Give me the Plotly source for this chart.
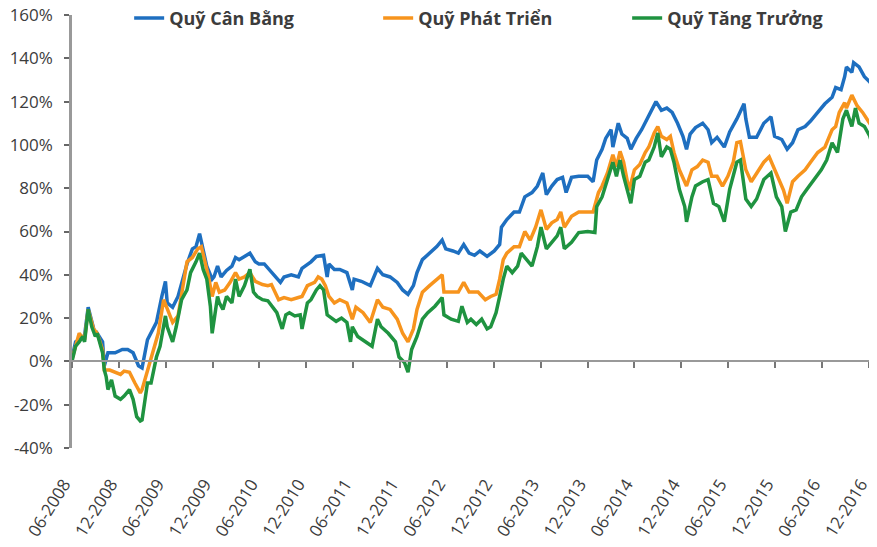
import numpy as np
import pandas as pd
import plotly.graph_objects as go

# ---------------- data (weekly observations since 2008-06-01; % return) ----------------
base_date = "2008-06-01"

can_bang_week = [0, 2, 4, 7, 9, 11, 13, 14, 17, 18, 20, 24, 28, 31, 34, 37, 39, 42, 44, 47,
                 50, 52, 53, 56, 59, 62, 64, 67, 69, 71, 73, 75, 78, 79, 81, 83, 86, 89, 91, 93,
                 96, 99, 102, 104, 107, 111, 116, 118, 122, 126, 128, 133, 136, 140, 142, 143, 146, 149, 153, 156,
                 157, 161, 166, 170, 173, 177, 181, 184, 187, 190, 192, 195, 199, 203, 206, 208, 212, 215, 218, 221,
                 224, 227, 231, 235, 238, 239, 242, 246, 249, 252, 256, 259, 262, 264, 267, 270, 273, 275, 278, 282,
                 287, 290, 292, 295, 297, 300, 301, 304, 306, 309, 311, 314, 317, 320, 322, 325, 328, 331, 334, 337,
                 340, 342, 344, 347, 351, 354, 356, 359, 363, 366, 370, 372, 374, 375, 377, 381, 385, 389, 391, 395,
                 398, 401, 404, 408, 411, 415, 419, 423, 425, 428, 430, 431, 434, 435, 438, 441, 444, 446, 447]
can_bang = [1.5, 9, 10, 12, 25, 19, 12, 13, 9, -2, 4, 4, 5.5, 5.5, 4, -2, -3, 10, 13, 18,
            30, 37, 27, 25, 30, 39, 45, 52, 53, 59, 52, 44, 38, 39, 44, 39, 42, 44, 48, 47,
            48.5, 50, 46, 45, 45, 41, 36.5, 39, 40, 39, 43, 46, 48.5, 49, 39, 45, 42.5, 42.5, 41, 33,
            38, 37, 35, 43, 40, 39, 36.5, 33, 31, 35, 41, 47, 50, 53, 56, 52, 51, 50, 54, 50,
            49, 51, 48.5, 51, 54, 62, 65.5, 69, 69, 76, 78, 81, 87, 77, 81, 84, 85, 78, 85, 85.5,
            85.5, 83, 93, 98, 103, 107, 99, 110, 105, 103, 98, 103, 107, 112, 115, 120, 116, 117, 115, 110,
            104, 98, 105, 108, 110, 107, 101, 103.5, 99, 106, 112, 116, 119, 112, 103.5, 103.5, 110, 113, 104, 102.5,
            98, 101, 107, 108.5, 111, 115, 119, 122, 126.5, 125.5, 131.5, 136, 133.5, 138, 136, 131.5, 129, 126.5, 125]

phat_trien_week = [0, 2, 4, 7, 9, 12, 14, 17, 18, 21, 24, 27, 29, 32, 35, 38, 39, 42, 45, 48,
                   51, 53, 56, 59, 62, 64, 67, 70, 72, 74, 76, 78, 80, 82, 85, 88, 91, 93, 96, 99,
                   102, 106, 109, 111, 115, 118, 122, 126, 128, 131, 135, 137, 139, 141, 143, 146, 149, 153, 156, 158,
                   162, 166, 170, 173, 177, 181, 184, 187, 190, 192, 195, 199, 203, 206, 207, 211, 215, 218, 221, 226,
                   230, 233, 236, 238, 240, 242, 246, 249, 252, 255, 258, 261, 264, 267, 270, 272, 274, 278, 282, 287,
                   290, 293, 295, 298, 301, 303, 305, 307, 310, 313, 316, 319, 321, 324, 326, 328, 331, 333, 335, 338,
                   341, 342, 345, 348, 351, 354, 356, 359, 362, 365, 368, 370, 372, 375, 378, 381, 385, 388, 391, 394,
                   396, 398, 401, 404, 408, 411, 415, 419, 423, 425, 427, 430, 431, 434, 437, 440, 443, 446, 447]
phat_trien = [1, 7, 13, 10, 24, 15, 13, 5.5, -4, -4, -5, -6, -4.5, -5, -10, -14.5, -13, -4, 4.5, 13,
              28.5, 24, 18, 21, 37, 46, 48, 52, 53, 46, 39, 30, 36.5, 32, 33, 36.5, 41, 38, 39, 41,
              37, 35.5, 35, 35.5, 28.5, 29.5, 28.5, 29.5, 30, 35, 36.5, 39, 38, 35, 30, 27, 28.5, 27, 19.5, 25,
              22.5, 18, 28.5, 25, 24, 19.5, 13, 9, 15, 24, 32, 35, 38, 40, 32, 32, 32, 36.5, 32, 32,
              28.5, 30, 31, 38, 47, 50, 53, 53, 60, 56, 62, 70, 61, 64, 65.5, 69, 62, 67, 69, 69,
              69, 78, 81, 87, 95.5, 90, 97, 92, 79, 88.5, 91, 96.5, 99, 105.5, 108.5, 104, 102.5, 104, 96.5, 88.5,
              83, 81, 88.5, 90, 93, 92, 85.5, 85.5, 81, 85.5, 92, 101, 101.5, 88.5, 83, 87, 92, 94.5, 88.5, 83,
              79, 73, 83, 85.5, 88.5, 92, 96.5, 99, 107, 108.5, 115, 119.5, 117, 123, 118, 115, 111, 107, 106]

tang_truong_week = [0, 2, 4, 6, 7, 9, 11, 13, 14, 17, 18, 19, 20, 22, 24, 27, 29, 32, 34, 36,
                    38, 39, 42, 44, 47, 49, 52, 53, 56, 58, 61, 64, 66, 67, 69, 71, 73, 75, 77, 78,
                    81, 82, 84, 86, 89, 91, 93, 96, 99, 101, 103, 106, 109, 114, 117, 119, 121, 124, 127, 128,
                    131, 133, 136, 138, 140, 142, 145, 147, 150, 153, 155, 156, 159, 163, 167, 170, 172, 176, 180, 182,
                    185, 187, 189, 192, 195, 198, 202, 206, 207, 211, 215, 217, 220, 222, 225, 228, 231, 233, 236, 238,
                    240, 242, 245, 248, 250, 253, 256, 259, 261, 264, 267, 270, 272, 274, 278, 282, 287, 291, 292, 295,
                    298, 301, 303, 305, 307, 311, 313, 316, 319, 321, 324, 326, 328, 331, 333, 335, 338, 341, 342, 345,
                    347, 351, 354, 356, 357, 360, 363, 366, 370, 372, 375, 378, 381, 385, 389, 392, 395, 397, 400, 403,
                    406, 409, 413, 417, 420, 423, 426, 429, 431, 434, 436, 438, 441, 444, 446, 447]
tang_truong = [0, 7, 9, 11.5, 9, 24, 16, 11.5, 13, 4, -4, -7, -13, -8.5, -16, -17.5, -16, -13, -17.5, -25.5,
               -27.5, -27, -10, -10, 2, 7, 21, 16, 9, 16, 28.5, 33, 41, 42.5, 46, 50, 42.5, 38, 25.5, 13,
               30, 27, 24, 30, 27, 38, 30, 35, 42.5, 32, 30, 28.5, 28, 22.5, 15, 21.5, 22.5, 21, 21.5, 15,
               27, 28.5, 33, 35, 33, 21.5, 19.5, 18.5, 20, 18, 9, 16, 11.5, 9, 7, 19.5, 16, 13, 9, 2,
               -0.5, -5, 5.5, 11.5, 19.5, 22.5, 25.5, 29.5, 21.5, 19.5, 18.5, 25.5, 18, 19.5, 17, 19.5, 15, 16, 22.5, 30,
               38, 44, 41, 44, 50, 47, 44, 53, 62, 52, 55, 58, 62, 52, 55, 59.5, 60, 59.5, 71.5, 76,
               84, 92, 85.5, 93, 85.5, 73, 84, 85.5, 92, 93, 99, 105.5, 94.5, 99, 98, 92, 79.5, 71.5, 64.5, 76,
               81, 83, 84, 76, 73, 71.5, 64.5, 79.5, 92, 93, 75, 71.5, 75, 84, 87, 76, 71.5, 60, 69, 70,
               76, 79.5, 84, 88.5, 93, 101, 96.5, 112, 116, 108.5, 117, 110, 108.5, 104, 98, 97]

series_names = ["Quỹ Cân Bằng", "Quỹ Phát Triển", "Quỹ Tăng Trưởng"]
series_colors = ["#1e6fc0", "#f7941d", "#1f9340"]

tick_dates = pd.date_range("2008-06-01", "2016-12-01", freq="6MS")
tick_labels = [d.strftime("%m-%Y") for d in tick_dates]
y_ticks = list(range(-40, 161, 20))
y_labels = [f"{v}%" for v in y_ticks]

# ---------------- figure ----------------
base = pd.Timestamp(base_date)


def to_dates(weeks):
    return base + pd.to_timedelta(np.array(weeks) * 7, unit="D")


fig = go.Figure()
for wk, vals, name, col in zip(
    [can_bang_week, phat_trien_week, tang_truong_week],
    [can_bang, phat_trien, tang_truong],
    series_names, series_colors,
):
    fig.add_trace(go.Scatter(x=to_dates(wk), y=vals, mode="lines", name=name,
                             line=dict(color=col, width=3.5)))

# invisible helper trace so the zero-line axis (x2) is drawn
fig.add_trace(go.Scatter(x=to_dates([0]), y=[0], mode="markers", xaxis="x2",
                         showlegend=False, hoverinfo="skip",
                         marker=dict(opacity=0, size=1)))

x_range = [base, base + pd.Timedelta(days=3136)]
font_fam = "Open Sans, Noto Sans, sans-serif"
text_col = "#3c3c3c"
axis_col = "#999999"

# the page body adds an 8 px offset; sizes/margins compensate so the plot area sits at 72..877 x 15..448
fig.update_layout(
    width=869, height=539,
    margin=dict(l=64, r=0, t=7, b=99, autoexpand=False),
    paper_bgcolor="white", plot_bgcolor="white",
    font=dict(family=font_fam, size=17, color=text_col),
    showlegend=True,
    legend=dict(orientation="h", x=0.071, y=1.035, xanchor="left", yanchor="top",
                entrywidth=204, entrywidthmode="pixels",
                font=dict(family=font_fam, size=18, color=text_col, weight="bold"),
                bgcolor="rgba(0,0,0,0)"),
    xaxis=dict(type="date", range=x_range, tickvals=tick_dates, ticktext=tick_labels,
               tickangle=-58, showgrid=False, zeroline=False, showline=False, ticks="",
               automargin=False, ticklabelstandoff=22, ticklabelshift=-8,
               ticklabeloverflow="allow", tickfont=dict(size=17, color=text_col)),
    xaxis2=dict(type="date", range=x_range, overlaying="x", anchor="free", position=0.2,
                side="bottom", tickvals=tick_dates, showticklabels=False, ticks="outside",
                ticklen=6, tickwidth=2, tickcolor="#777777", showline=True, linecolor=axis_col,
                linewidth=2, showgrid=False, zeroline=False, automargin=False),
    yaxis=dict(range=[-40, 160], tickvals=y_ticks, ticktext=y_labels, showgrid=False,
               zeroline=True, zerolinecolor=axis_col, zerolinewidth=2,
               showline=True, linecolor=axis_col, linewidth=2.5,
               ticks="outside", ticklen=5, tickwidth=2, tickcolor="#666666", automargin=False,
               ticklabelstandoff=8, ticklabeloverflow="allow",
               tickfont=dict(size=17, color=text_col)),
)

fig.write_html("out.html")
